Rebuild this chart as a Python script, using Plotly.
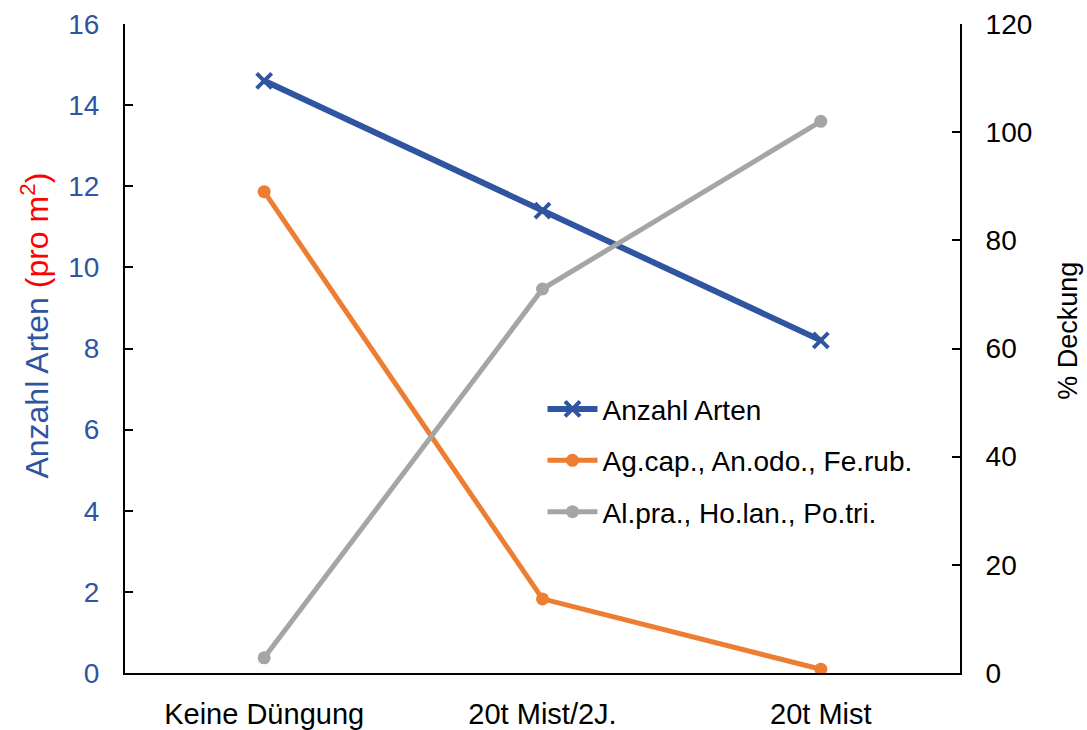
import plotly.graph_objects as go

categories = ["Keine Düngung", "20t Mist/2J.", "20t Mist"]
anzahl_arten = [14.6, 11.4, 8.2]
deckung_ag_an_fe = [89, 13.7, 0.7]
deckung_al_ho_po = [2.8, 71, 102]

left_ticks = [0, 2, 4, 6, 8, 10, 12, 14, 16]
right_ticks = [0, 20, 40, 60, 80, 100, 120]

BLUE = "#2F55A0"
ORANGE = "#ED7D31"
GRAY = "#A5A5A5"
FONT = "Liberation Sans, Arial, sans-serif"

fig = go.Figure()

fig.add_trace(go.Scatter(
    x=categories, y=anzahl_arten, name="Anzahl Arten",
    mode="lines+markers", legendgroup="a",
    line=dict(color=BLUE, width=6),
    marker=dict(symbol="x-thin", size=15, line=dict(color=BLUE, width=4), color=BLUE),
    yaxis="y",
))
fig.add_trace(go.Scatter(
    x=categories, y=deckung_ag_an_fe, name="Ag.cap., An.odo., Fe.rub.",
    mode="lines+markers", legendgroup="b",
    line=dict(color=ORANGE, width=5),
    marker=dict(symbol="circle", size=13, color=ORANGE),
    yaxis="y2",
))
fig.add_trace(go.Scatter(
    x=categories, y=deckung_al_ho_po, name="Al.pra., Ho.lan., Po.tri.",
    mode="lines+markers", legendgroup="c",
    line=dict(color=GRAY, width=5),
    marker=dict(symbol="circle", size=13, color=GRAY),
    yaxis="y2",
))

# axis titles placed as rotated annotations beside the tick labels
fig.add_annotation(
    text='<span style="color:#2F55A0">Anzahl Arten </span>'
         '<span style="color:#FF0000">(pro m<sup>2</sup>)</span>',
    xref="paper", yref="paper", x=-0.108, y=0.535,
    xanchor="center", yanchor="middle", textangle=-90,
    showarrow=False, font=dict(size=32, family=FONT),
)
fig.add_annotation(
    text="% Deckung",
    xref="paper", yref="paper", x=1.129, y=0.527,
    xanchor="center", yanchor="middle", textangle=-90,
    showarrow=False, font=dict(size=27, color="black", family=FONT),
)

fig.update_layout(
    width=1087, height=730,
    margin=dict(l=125, r=127, t=24, b=57),
    paper_bgcolor="white", plot_bgcolor="white",
    font=dict(family=FONT, size=28, color="black"),
    showlegend=True,
    legend=dict(
        x=0.50, y=0.445, xanchor="left", yanchor="top",
        bgcolor="rgba(0,0,0,0)", font=dict(size=28, color="black"),
        traceorder="grouped", tracegroupgap=12,
        itemwidth=50,
    ),
    xaxis=dict(
        type="category", range=[-0.5, 2.5], automargin=False,
        showline=True, linecolor="black", linewidth=2,
        ticks="", showgrid=False, zeroline=False,
        tickfont=dict(size=29, color="black"),
        ticklabelstandoff=14,
    ),
    yaxis=dict(
        range=[0, 16], tickvals=left_ticks, automargin=False,
        showline=True, linecolor="black", linewidth=2,
        ticks="inside", ticklen=8, tickwidth=2, tickcolor="black",
        showgrid=False, zeroline=False,
        tickfont=dict(size=28, color=BLUE),
        ticklabelstandoff=18,
    ),
    yaxis2=dict(
        range=[0, 120], tickvals=right_ticks, automargin=False,
        overlaying="y", side="right",
        showline=True, linecolor="black", linewidth=2,
        ticks="inside", ticklen=8, tickwidth=2, tickcolor="black",
        showgrid=False, zeroline=False,
        tickfont=dict(size=28, color="black"),
        ticklabelstandoff=18,
    ),
)

fig.write_html("out.html")
